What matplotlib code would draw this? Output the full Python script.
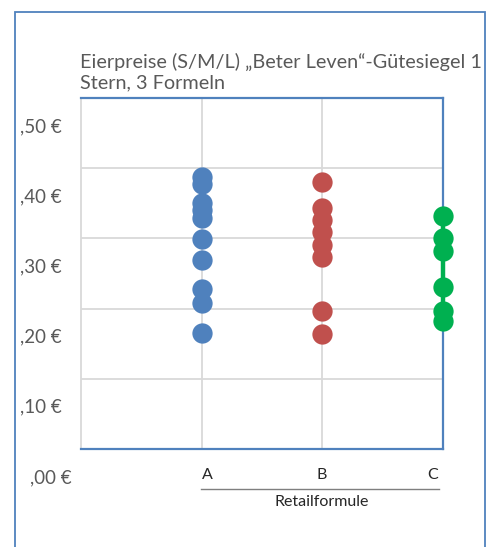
import matplotlib
matplotlib.use("Agg")
import matplotlib.pyplot as plt
from matplotlib.transforms import ScaledTranslation
from matplotlib.lines import Line2D
from matplotlib.patches import Rectangle

plt.rcParams['font.family'] = ['Lato', 'DejaVu Sans']

# Data
categories = ["A", "B", "C"]
prices_a = [0.387, 0.377, 0.350, 0.340, 0.329, 0.299, 0.269, 0.228, 0.208, 0.165]
prices_b = [0.380, 0.343, 0.326, 0.309, 0.291, 0.274, 0.197, 0.164]
prices_c = [0.332, 0.301, 0.282, 0.231, 0.197, 0.182]
y_ticks = [0.0, 0.1, 0.2, 0.3, 0.4, 0.5]
y_tick_labels = [",00 €", ",10 €", ",20 €", ",30 €", ",40 €", ",50 €"]

title = "Eierpreise (S/M/L) „Beter Leven“-Gütesiegel 1\nStern, 3 Formeln"
x_title = "Retailformule"

W, H, DPI = 489, 547, 100
fig = plt.figure(figsize=(W / DPI, H / DPI), dpi=DPI)

def px(x, y):
    return x / W, 1 - y / H

frame_blue = "#4f81bd"
grid_gray = "#d9d9d9"
text_gray = "#595959"

# Outer chart frame
fig.add_artist(Rectangle(px(15, 600), (485 - 15) / W, (600 - 12) / H,
                         transform=fig.transFigure, fill=False,
                         edgecolor=frame_blue, linewidth=1.3))

left, right, top, bottom = 81, 443, 98, 449
ax = fig.add_axes([left / W, 1 - bottom / H, (right - left) / W, (bottom - top) / H])
ax.set_xlim(-1, 2)
ax.set_ylim(0, 0.5)

for name in ("top", "right", "bottom"):
    ax.spines[name].set_color(frame_blue)
    ax.spines[name].set_linewidth(1.6)
ax.spines["left"].set_color(grid_gray)
ax.spines["left"].set_linewidth(1.3)

ax.set_yticks(y_ticks)
ax.set_yticklabels(y_tick_labels)
ax.tick_params(axis="y", length=0, pad=14, labelsize=13.5, labelcolor=text_gray)
for i, lab in enumerate(ax.get_yticklabels()):
    dx = 10 / DPI if i == 0 else 0
    lab.set_transform(lab.get_transform() + ScaledTranslation(dx, -27 / DPI, fig.dpi_scale_trans))

xs = list(range(len(categories)))
ax.set_xticks(xs)
ax.set_xticklabels(categories)
ax.tick_params(axis="x", length=0, pad=14, labelsize=11.5, labelcolor="#262626")
x_offsets = [6, -1, -10]
for lab, dx in zip(ax.get_xticklabels(), x_offsets):
    lab.set_transform(lab.get_transform() + ScaledTranslation(dx / DPI, 0, fig.dpi_scale_trans))

# Grid lines
for v in y_ticks[1:-1]:
    ax.axhline(v, color=grid_gray, linewidth=1.3, zorder=0)
for v in xs[:-1]:
    ax.axvline(v, color=grid_gray, linewidth=1.3, zorder=0)

ms = 14.6
ax.plot([xs[0]] * len(prices_a), prices_a, linestyle="none", marker="o",
        markersize=ms, color="#4f81bd", markeredgewidth=0, zorder=3, clip_on=False)
ax.plot([xs[1]] * len(prices_b), prices_b, linestyle="none", marker="o",
        markersize=ms, color="#c0504d", markeredgewidth=0, zorder=3, clip_on=False)
ax.plot([xs[2]] * len(prices_c), prices_c, linestyle="-", linewidth=3.2, marker="o",
        markersize=ms, color="#00b050", markeredgewidth=0, zorder=4, clip_on=False)

# Category axis rule and title
fig.add_artist(Line2D([201 / W, 439 / W], [1 - 489 / H, 1 - 489 / H],
                      transform=fig.transFigure, color="#7f7f7f", linewidth=1.0))
fig.text(322 / W, 1 - 502 / H, x_title, ha="center", va="center",
         fontsize=11.5, color="#262626")

fig.text(80 / W, 1 - 72.5 / H, title, ha="left", va="center", fontsize=14.3,
         color=text_gray, linespacing=1.25)

fig.savefig("out.png", dpi=DPI)
